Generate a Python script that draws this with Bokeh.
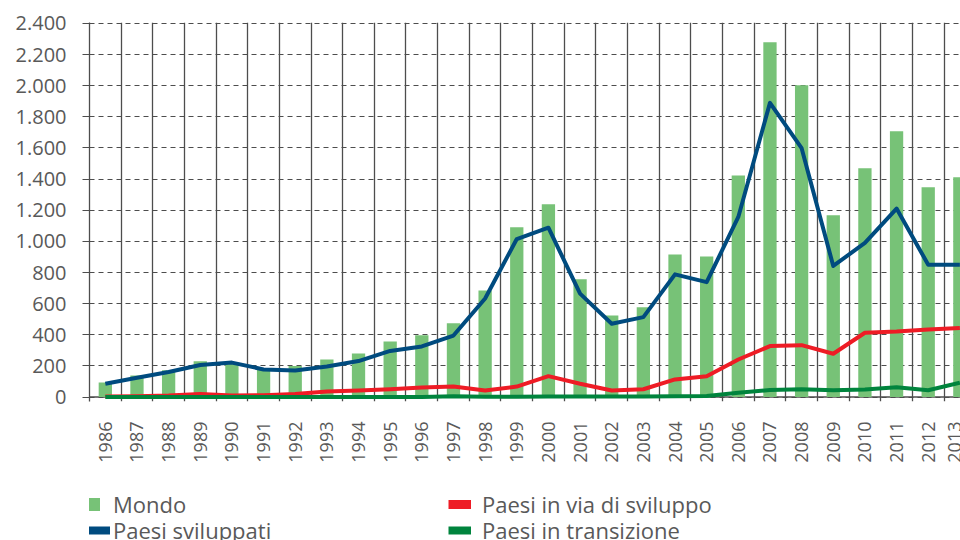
import math
from bokeh.plotting import figure
from bokeh.layouts import column
from bokeh.models import Range1d, FixedTicker, Span, Legend, LegendItem, ColumnDataSource
from bokeh.embed import file_html
from bokeh.resources import INLINE

# ---- data ----
years = list(range(1986, 2014))
year_labels = [str(y) for y in years]
mondo = [93, 138, 172, 230, 220, 185, 200, 241, 280, 357, 397, 474, 684, 1090,
         1238, 756, 524, 576, 916, 903, 1424, 2280, 2003, 1168, 1470, 1708, 1348, 1412]
sviluppati = [85, 124, 161, 206, 221, 177, 170, 196, 231, 296, 325, 395, 633, 1015,
              1088, 664, 471, 513, 788, 738, 1157, 1890, 1599, 842, 990, 1211, 850, 850]
in_via_di_sviluppo = [3, 5, 10, 20, 10, 12, 20, 35, 42, 50, 61, 67, 42, 67,
                      134, 85, 42, 50, 113, 134, 241, 327, 333, 278, 413, 421, 434, 444]
in_transizione = [0, 0, 0, 0, 0, 0, 0, 0, 0, 0, 0, 5, 1, 2,
                  3, 3, 3, 4, 5, 6, 27, 45, 50, 43, 48, 63, 43, 92]
y_ticks = [0, 200, 400, 600, 800, 1000, 1200, 1400, 1600, 1800, 2000, 2200, 2400]
y_tick_labels = ["0", "200", "400", "600", "800", "1.000", "1.200", "1.400",
                 "1.600", "1.800", "2.000", "2.200", "2.400"]

names = ["Mondo", "Paesi sviluppati", "Paesi in via di sviluppo", "Paesi in transizione"]

# ---- style ----
C_BAR = "#77C277"
C_BLUE = "#004B7F"
C_RED = "#EE1C25"
C_DGREEN = "#00843D"
C_GRID = "#4d4d4d"
C_TEXT = "#595959"
FONT = "Open Sans"

src = ColumnDataSource(dict(x=years, mondo=mondo, sv=sviluppati,
                            vs=in_via_di_sviluppo, tr=in_transizione))

p = figure(width=960, height=470, title=None,
           x_range=Range1d(1985.5, 2013.02), y_range=Range1d(-28.9, 2406.4),
           output_backend="svg", toolbar_location=None,
           min_border_left=89, min_border_right=0, min_border_top=22,
           min_border_bottom=69)
p.outline_line_color = None
p.background_fill_color = "white"
p.border_fill_color = "white"

# grids
p.xgrid.ticker = FixedTicker(ticks=[y - 0.5 for y in years] + [years[-1] + 0.5])
p.xgrid.grid_line_color = C_GRID
p.xgrid.grid_line_width = 1.3
p.ygrid.ticker = FixedTicker(ticks=y_ticks)
p.ygrid.grid_line_color = C_GRID
p.ygrid.grid_line_width = 1
p.ygrid.grid_line_dash = "5 4"

# y axis
p.yaxis.ticker = FixedTicker(ticks=y_ticks)
p.yaxis.major_label_overrides = {t: l for t, l in zip(y_ticks, y_tick_labels)}
p.yaxis.axis_line_color = C_GRID
p.yaxis.axis_line_width = 1.3
p.yaxis.major_tick_line_color = C_GRID
p.yaxis.major_tick_out = 7
p.yaxis.major_tick_in = 0
p.yaxis.minor_tick_line_color = None
p.yaxis.major_label_standoff = 16
p.yaxis.major_label_text_font = FONT
p.yaxis.major_label_text_font_size = "20px"
p.yaxis.major_label_text_color = C_TEXT

# x axis
p.xaxis.ticker = FixedTicker(ticks=years)
p.xaxis.major_label_overrides = {y: l for y, l in zip(years, year_labels)}
p.xaxis.major_label_orientation = math.pi / 2
p.xaxis.axis_line_color = None
p.xaxis.major_tick_line_color = None
p.xaxis.minor_tick_line_color = None
p.xaxis.major_label_standoff = 14
p.xaxis.major_label_text_font = FONT
p.xaxis.major_label_text_font_size = "18px"
p.xaxis.major_label_text_color = C_TEXT

# zero line
p.add_layout(Span(location=0, dimension="width", line_color=C_GRID,
                  line_width=1.5, level="underlay"))

# glyphs
p.vbar(x="x", top="mondo", width=0.42, source=src, fill_color=C_BAR, line_color=None)
p.line(x="x", y="sv", source=src, line_color=C_BLUE, line_width=4, line_join="round")
p.line(x="x", y="vs", source=src, line_color=C_RED, line_width=4, line_join="round")
p.line(x="x", y="tr", source=src, line_color=C_DGREEN, line_width=4, line_join="round")

# ---- legend strip (separate figure below the chart) ----
lf = figure(width=960, height=70, title=None, x_range=Range1d(0, 1), y_range=Range1d(0, 1),
            x_axis_type=None, y_axis_type=None, output_backend="svg",
            toolbar_location=None, min_border_left=0, min_border_right=0,
            min_border_top=0, min_border_bottom=0)
lf.outline_line_color = None
lf.grid.visible = False
lf.background_fill_color = "white"
lf.border_fill_color = "white"

# swatch renderers: same series, outside this strip's visible ranges
sw_mondo = lf.line(x="x", y="mondo", source=src, line_color=C_BAR,
                   line_width=13, line_dash="13 100")
sw_blue = lf.line(x="x", y="sv", source=src, line_color=C_BLUE, line_width=8)
sw_red = lf.line(x="x", y="vs", source=src, line_color=C_RED, line_width=9)
sw_green = lf.line(x="x", y="tr", source=src, line_color=C_DGREEN, line_width=8)


def add_legend(label, rend, loc, gw, standoff):
    lg = Legend(items=[LegendItem(label=label, renderers=[rend])], location=loc,
                glyph_width=gw, glyph_height=30, label_height=30,
                label_standoff=standoff, spacing=0, padding=0, margin=0,
                border_line_color=None, background_fill_color=None,
                label_text_font=FONT, label_text_font_size="22px",
                label_text_color=C_TEXT)
    lf.add_layout(lg)


add_legend(names[0], sw_mondo, (-2, 21.5), 13, 13)
add_legend(names[1], sw_blue, (-2, -4.5), 23, 3)
add_legend(names[2], sw_red, (359, 21.5), 23, 11)
add_legend(names[3], sw_green, (359, -4.5), 23, 11)

layout = column(p, lf, spacing=0)
open("out.html", "w").write(file_html(layout, INLINE))
